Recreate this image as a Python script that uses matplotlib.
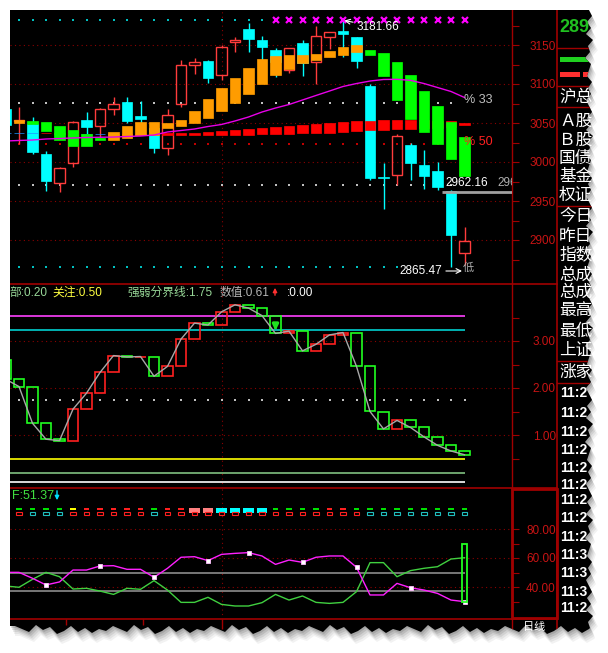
import matplotlib
matplotlib.use('Agg')
import matplotlib.pyplot as plt
from matplotlib.patches import Rectangle, Polygon
import numpy as np

plt.rcParams['font.family'] = ['Liberation Sans', 'Noto Sans CJK SC', 'DejaVu Sans']

W, H = 608, 653

# ---------------- data ----------------
# main panel: daily K lines (index 0 is the partly hidden one at the left edge)
opens = [3068, 3052, 3049, 3010, 2973, 2999, 3054, 3046, 3068, 3077,
         3059, 3044, 3018, 3074, 3124, 3130, 3112, 3154, 3171, 3156,
         3144, 3118, 3153, 3128, 3160, 3168, 3160, 3097, 2981, 2983,
         3022, 2996, 2989, 2963, 2883]
highs = [3072, 3070, 3058, 3014, 2993, 3052, 3064, 3069, 3083, 3083,
         3078, 3047, 3068, 3131, 3133, 3131, 3150, 3160, 3178, 3161,
         3146, 3146, 3156, 3174, 3167, 3181.66, 3160, 3100, 2999, 3036,
         3024, 3016, 3000, 2964, 2917]
lows = [3040, 3023, 3010, 2963, 2962, 2994, 3036, 3031, 3060, 3050,
        3047, 3012, 3009, 3070, 3113, 3101, 3105, 3141, 3141, 3131,
        3109, 3114, 3110, 3100, 3145, 3134, 3121, 2977, 2940, 2971,
        2977, 2965, 2964, 2865.47, 2868]
closes = [3047, 3054, 3013, 2976, 2992, 3051, 3045, 3068, 3074, 3053,
          3055, 3018, 3060, 3124, 3128, 3108, 3147, 3157, 3158, 3147,
          3128, 3146, 3127, 3162, 3167, 3164, 3130, 2980, 2979, 3033,
          2999, 2982, 2968, 2906, 2899]

# trend boxes (orange = up, green = down)
box_open = [np.nan, 3050, 3052.6, 3051.3, 3046.2, 3041, 3035.9, 3030.8, 3028.2, 3030.8,
            3034.6, 3034.6, 3043.6, 3046.2, 3050, 3056.4, 3065.4, 3075.6, 3087.2, 3100,
            3111.5, 3119.2, 3126.9, 3130.8, 3134.6, 3137.2, 3141, 3143.6, 3139.7, 3128.2,
            3111.5, 3091, 3071.8, 3051.3, 3032.1]
box_close = [np.nan, 3053.8, 3048.7, 3039.7, 3028.2, 3020.5, 3020.5, 3028.2, 3038.5, 3046.2,
             3051.3, 3051.3, 3050, 3053.8, 3065.4, 3080.8, 3094.9, 3107.7, 3120.5, 3132.1,
             3135.9, 3137.2, 3137.2, 3138.5, 3142.3, 3147.4, 3150, 3137.2, 3110.3, 3079.5,
             3055.1, 3038.5, 3023.1, 3003.8, 2982.1]

# two average lines shown as a red / blue ribbon
band_fast = [3036.6, 3036.6, 3036.6, 3037.6, 3037, 3037, 3035.4, 3035.4, 3036, 3036,
             3036, 3038, 3037, 3037.2, 3037.2, 3038.5, 3039.7, 3041.0, 3042.3, 3043.6,
             3044.9, 3046.2, 3047.4, 3048.7, 3050.0, 3051.3, 3052.6, 3052.6, 3053.8, 3053.8,
             3053.8, 3053.8, 3053.0, 3052, 3050.4]
band_slow = [3037.6, 3037.6, 3037.6, 3036.6, 3036, 3036, 3036.4, 3036.4, 3035, 3035,
             3035, 3035, 3035, 3034.6, 3034.6, 3034.6, 3034.6, 3034.6, 3034.6, 3035.9,
             3035.9, 3035.9, 3037.2, 3037.2, 3037.6, 3038, 3039.7, 3041.0, 3041.0, 3042.0,
             3042.8, 3043.0, 3044, 3045, 3047.4]

ma_line = [3026.9, 3027.6, 3028.2, 3029.5, 3030.1, 3030.8, 3031.4, 3031.7, 3032.0, 3032.7,
           3033.3, 3034.6, 3038.5, 3040.4, 3042.3, 3045.5, 3048.1, 3052.6, 3057.7, 3064.1,
           3069.2, 3073.7, 3079.5, 3085.3, 3091.0, 3096.8, 3100.6, 3103.8, 3105.8, 3106.0,
           3104.7, 3100.6, 3095.5, 3090.4, 3082.7]

hi_mark, lo_mark, last_mark = 3181.66, 2865.47, 2962.16
lvl_23 = lo_mark + (hi_mark - lo_mark) * 2 / 3
lvl_13 = lo_mark + (hi_mark - lo_mark) / 3
lvl_50 = (hi_mark + lo_mark) / 2

price_ticks = [2900, 2950, 3000, 3050, 3100, 3150]

# panel 2: strength wave
wave_start = 2.60
wave = [2.19, 2.03, 1.25, 0.91, 0.88, 1.55, 1.89, 2.33, 2.69, 2.66,
        2.67, 2.25, 2.46, 3.04, 3.38, 3.34, 3.62, 3.77, 3.70, 3.54,
        3.16, 3.21, 2.79, 2.93, 3.13, 3.18, 2.46, 1.50, 1.13, 1.31,
        1.16, 0.96, 0.78, 0.66, 0.58]
wave_levels = [3.53, 3.23, 0.50, 0.20, 0.00]
wave_level_colors = ['#ff40ff', '#00d0d0', '#ffff00', '#80c080', '#ffffff']
wave_split = 1.75

# panel 3: two oscillator lines
osc_a = [50.1, 50.1, 46.0, 41.4, 43.5, 51.7, 51.7, 54.5, 54.7, 52.2,
         52.2, 46.7, 52.9, 60.5, 60.9, 58.2, 62.5, 63.2, 63.7, 61.4,
         55.6, 58.6, 57.0, 60.5, 61.4, 61.4, 53.6, 34.5, 34.5, 42.5,
         39.5, 37.9, 35.6, 31.0, 29.9]
osc_b = [40.7, 39.8, 45.3, 50.1, 47.1, 38.6, 39.1, 37.2, 34.9, 39.1,
         38.4, 44.4, 37.9, 29.4, 29.4, 32.9, 28.0, 26.9, 26.9, 29.2,
         34.9, 31.0, 33.8, 29.4, 28.7, 29.4, 36.8, 56.8, 56.8, 47.1,
         51.3, 52.9, 54.0, 59.3, 60.2]
osc_marks = [3, 7, 11, 15, 18, 22, 26, 30, 34]
osc_bar = (29.9, 69.7)
osc_levels = [50, 37]
signal_top = "ggggyrrrrrgrrPPCCCCggggrrggggggggg"      # candles 1..34
signal_bot = "rcccrrrrrrcrrrrrrrrrrrrrrrcccccccc"

info_labels = ["沪总", "Ａ股", "Ｂ股", "国债", "基金", "权证", "今日", "昨日",
               "指数", "总成", "总成", "最高", "最低", "上证", "涨家"]
info_y = [97, 121, 140, 158, 176, 195, 216, 236, 255, 275, 292, 311, 331, 350, 372]
time_labels = ["11:2"] * 9 + ["11:3"] * 3 + ["11:2"]
time_y = [393, 413, 432, 450, 468, 485, 500, 518, 537, 555, 573, 592, 608]

n = len(closes)
idx = np.arange(n)

# ---------------- colours ----------------
RED = '#ff3c3c'
CYAN = '#00ffff'
ORANGE = '#ff9c00'
GREEN = '#00ff00'
GRID = '#8c0000'
AXIS = '#a00000'
TLBL = '#c81414'
DOT = (0, (1, 3))

fig = plt.figure(figsize=(W / 100, H / 100), dpi=100)
fig.patch.set_facecolor('white')

bg = fig.add_axes([0, 0, 1, 1])
bg.set_xlim(0, W)
bg.set_ylim(H, 0)
bg.axis('off')
bg.set_zorder(0)

# torn paper edge
pat_r = np.array([0, 3, -2, 2, -3, 4, -1, 1, -4, 2, 0, -2, 3, -1, 2, -3])
ys_r = np.arange(10, 634, 6)
xs_r = 589 + pat_r[np.arange(len(ys_r)) % len(pat_r)]
pat_b = np.array([0, 4, -1, 3, -3, 2, 5, -2, 1, -4, 3, 0, -3, 2])
xs_b = np.arange(589, 9, -7)
ys_b = 629 + pat_b[np.arange(len(xs_b)) % len(pat_b)]
pts = np.array([(10, 10)] + list(zip(xs_r, ys_r)) + list(zip(xs_b, ys_b)) + [(10, ys_b[-1])], float)
for k, a in [(2, .12), (4, .10), (6, .08), (8, .06), (10, .05)]:
    bg.add_patch(Polygon(pts + [k * 0.5, k], closed=True, fc='black', ec='none', alpha=a))
edge = Polygon(pts, closed=True, fc='black', ec='none', zorder=1)
bg.add_patch(edge)


def line(x0, y0, x1, y1, **kw):
    ln, = bg.plot([x0, x1], [y0, y1], zorder=2, **kw)
    ln.set_clip_path(edge)


def txt(x, y, s, **kw):
    t = bg.text(x, y, s, zorder=3, **kw)
    t.set_clip_path(edge)
    return t


# frame lines
for yy in (284, 488, 619):
    line(10, yy, 557, yy, color=AXIS, lw=1.2)
line(512, 10, 512, 645, color=AXIS, lw=1)
line(557, 10, 557, 645, color=AXIS, lw=1.2)
bg.add_patch(Rectangle((512, 489), 45, 129, fill=False, ec=AXIS, lw=2, zorder=2))
for yy in (48, 86, 107, 206, 361, 383):
    line(557, yy, 600, yy, color=AXIS, lw=1)

# right info column
txt(559, 27, "289", color='#20c020', fontsize=13, fontweight='bold', va='center')
bg.add_patch(Rectangle((560, 57), 32, 5, fc='#20d020', ec='none', zorder=2, clip_path=edge))
bg.add_patch(Rectangle((560, 72), 20, 5, fc='#ff3030', ec='none', zorder=2, clip_path=edge))
bg.add_patch(Rectangle((583, 72), 10, 5, fc='#ff3030', ec='none', zorder=2, clip_path=edge))
for s, yy in zip(info_labels, info_y):
    txt(559, yy, s, color='white', fontsize=12, va='center', family='Noto Sans CJK SC')
for s, yy in zip(time_labels, time_y):
    txt(560, yy, s, color='white', fontsize=10, fontweight='bold', va='center')
txt(523, 627, "日线", color='white', fontsize=8, va='center', family='Noto Sans CJK SC')

# panel headers
txt(9, 293, "部:0.20", color='#98d898', fontsize=8.5, va='center')
txt(52, 293, "关注:0.50", color='#ffff40', fontsize=8.5, va='center')
txt(128, 293, "强弱分界线:1.75", color='#98d898', fontsize=8.5, va='center')
txt(220, 293, "数值:0.61", color='#b8b8b8', fontsize=8.5, va='center')
txt(287, 293, ":0.00", color='white', fontsize=8.5, va='center')
bg.annotate('', xy=(275, 285), xytext=(275, 298),
            arrowprops=dict(arrowstyle='-|>', color='#ff3030', lw=1, mutation_scale=6), zorder=3)
txt(12, 496, "F:51.37", color='#40e040', fontsize=9, va='center')
bg.annotate('', xy=(57, 503), xytext=(57, 488),
            arrowprops=dict(arrowstyle='-|>', color='#00e0ff', lw=1, mutation_scale=6), zorder=3)


def ip(x):
    # pixel column -> candle index
    return (x - 5.5) / 13.5


def px_axes(x0, y0, x1, y1):
    a = fig.add_axes([x0 / W, 1 - y1 / H, (x1 - x0) / W, (y1 - y0) / H])
    a.set_facecolor('none')
    a.set_zorder(1)
    for sp in a.spines.values():
        sp.set_visible(False)
    a.set_xlim(ip(10), ip(512))
    a.set_xticks([])
    a.yaxis.tick_right()
    a.tick_params(axis='y', which='both', direction='out', color=AXIS, labelcolor=TLBL,
                  labelsize=8.5, pad=26.6, length=5, width=0.8)
    a.axvline(16, color=GRID, ls=DOT, lw=0.8, zorder=0.5)
    return a


XL = (ip(10), ip(512))

# ---------------- main panel ----------------
ax1 = px_axes(10, 10, 512, 284)
ax1.set_ylim(3150 - (284 - 45) / 0.78, 3150 + (45 - 10) / 0.78)
ax1.set_yticks(price_ticks, labels=[str(v) for v in price_ticks], ha='right')
ax1.set_yticks([p + 25 for p in price_ticks[:-1]] + [2875, 3175], minor=True)
ax1.hlines(price_ticks, *XL, colors=GRID, linestyles=DOT, lw=0.8, zorder=0.5)

dots_x = idx[1:34]
ax1.scatter(idx[1:20], [hi_mark] * 19, s=1.5, marker='s', c='#00c0c0', lw=0, zorder=1)
ax1.scatter(idx[1:30], [lo_mark] * 29, s=1.5, marker='s', c='#00c0c0', lw=0, zorder=1)
ax1.scatter(dots_x, [lvl_23] * len(dots_x), s=1.5, marker='s', c='#c0c0c0', lw=0, zorder=1)
ax1.scatter(dots_x, [lvl_13] * len(dots_x), s=1.5, marker='s', c='#c0c0c0', lw=0, zorder=1)
ax1.scatter(dots_x, [lvl_50] * len(dots_x), s=1.5, marker='s', c='#c00000', lw=0, zorder=1)
ax1.plot(idx[20:], [hi_mark] * (n - 20), 'x', color='#ff00ff', ms=4, mew=1.6, zorder=5)

for i in range(n):
    o, h, l, c = opens[i], highs[i], lows[i], closes[i]
    if c >= o:
        ax1.add_patch(Rectangle((i - 0.4, o), 0.8, c - o, fill=False, ec=RED, lw=1, zorder=2))
        ax1.vlines(i, c, h, color=RED, lw=1, zorder=2)
        ax1.vlines(i, l, o, color=RED, lw=1, zorder=2)
    else:
        ax1.vlines(i, l, h, color=CYAN, lw=1, zorder=2)
        ax1.add_patch(Rectangle((i - 0.4, c), 0.8, o - c, fc=CYAN, ec=CYAN, lw=0.5, zorder=2))

for i in range(n):
    a, b = band_fast[i], band_slow[i]
    col = '#ff0000' if a > b else '#2090ff'
    ax1.add_patch(Rectangle((i - 0.4, min(a, b)), 0.8, abs(a - b), fc=col, ec=col, lw=0.5, zorder=3))

for i in range(n):
    o, c = box_open[i], box_close[i]
    if np.isnan(o):
        continue
    col = ORANGE if c > o else GREEN
    ax1.add_patch(Rectangle((i - 0.4, min(o, c)), 0.8, abs(c - o), fc=col, ec=col, lw=0.5, zorder=4))

ax1.plot(idx, ma_line, color='#e800e8', lw=1, zorder=5)
ax1.hlines(last_mark, ip(442), XL[1], color='#a0a0a0', lw=2, zorder=5)

ax1.annotate('3181.66', xy=(25, hi_mark), xytext=(357, 27), textcoords=bg.transData,
             color='white', fontsize=8.5, va='center', ha='left', zorder=6,
             arrowprops=dict(arrowstyle='->', color='white', lw=0.8, shrinkA=1, shrinkB=1))
ax1.annotate('2865.47', xy=(ip(462), 3150 - (271 - 45) / 0.78), xytext=(399, 271),
             textcoords=bg.transData, color='white', fontsize=8.5, va='center', ha='left',
             zorder=6, arrowprops=dict(arrowstyle='->', color='white', lw=0.8, shrinkA=1, shrinkB=0))
ax1.text(463, 268, '低', transform=bg.transData, color='#b0b0b0', fontsize=8, va='center',
         family='Noto Sans CJK SC', zorder=6)
ax1.text(445, 183, '2962.16', transform=bg.transData, color='white', fontsize=8.5,
         va='center', zorder=6)
ax1.text(497, 183, '2962.16', transform=bg.transData, color='#b0b0b0', fontsize=8.5,
         va='center', zorder=6, clip_on=True)
ax1.text(464, 100, '% 33', transform=bg.transData, color='#c0c0c0', fontsize=9, va='center', zorder=6)
ax1.text(464, 142, '% 50', transform=bg.transData, color='#ff2020', fontsize=9, va='center', zorder=6)

# ---------------- strength panel ----------------
ax2 = px_axes(10, 284, 512, 488)
ax2.set_ylim(3 - (488 - 341) / 47, 3 + (341 - 284) / 47)
ax2.set_yticks([1, 2, 3], labels=['1.00', '2.00', '3.00'], ha='right')
ax2.set_yticks([0.5, 1.5, 2.5, 3.5], minor=True)
ax2.hlines([1, 2, 3], *XL, colors=GRID, linestyles=DOT, lw=0.8, zorder=0.5)
for v, col in zip(wave_levels, wave_level_colors):
    ax2.hlines(v, XL[0], 34, color=col, lw=1.2, zorder=1)
ax2.scatter(idx[1:], [wave_split] * (n - 1), s=1.5, marker='s', c='#c0c0c0', lw=0, zorder=1)

prev = [wave_start] + wave[:-1]
for i in range(n):
    a, b = prev[i], wave[i]
    col = '#ff2020' if b > a else '#20ff20'
    ax2.add_patch(Rectangle((i - 0.4, min(a, b)), 0.8, abs(b - a), fill=False, ec=col, lw=1.2, zorder=2))
ax2.plot(np.arange(-1, n), [wave_start] + wave, color='#a8a8a8', lw=1, zorder=3)
ax2.annotate('', xy=(20, 3.16), xytext=(20, 3.42),
             arrowprops=dict(arrowstyle='-|>', color='#20e020', lw=2.2, mutation_scale=8), zorder=4)

# ---------------- oscillator panel ----------------
ax3 = px_axes(10, 488, 512, 619)
ax3.set_ylim(80 - (619 - 529) / 1.45, 80 + (529 - 488) / 1.45)
ax3.set_yticks([40, 60, 80], labels=['40.00', '60.00', '80.00'], ha='right')
ax3.set_yticks([30, 50, 70], minor=True)
ax3.hlines([40, 60, 80], *XL, colors=GRID, linestyles=DOT, lw=0.8, zorder=0.5)
ax3.hlines(osc_levels, XL[0], 34, color='#8c8c8c', lw=1.2, zorder=1)
ax3.plot(idx, osc_b, color='#40d040', lw=1, zorder=2)
ax3.plot(idx, osc_a, color='#ff20ff', lw=1, zorder=3)
ax3.plot(osc_marks, [osc_a[i] for i in osc_marks], 's', ms=3.2, mfc='white', mec='#ffc0ff',
         mew=0.6, zorder=4)
ax3.add_patch(Rectangle((34 - 0.18, osc_bar[0]), 0.36, osc_bar[1] - osc_bar[0], fill=False,
                        ec='#20ff20', lw=1.3, zorder=4))

top_cols = {'g': '#00e000', 'y': '#ffff00', 'r': '#ff2020', 'P': '#ff8080', 'C': '#00ffff'}
bot_cols = {'r': '#ff2020', 'c': '#20c0c0'}
for k, code in enumerate(signal_top):
    i = k + 1
    if code in 'PC':
        ax3.add_patch(Rectangle((i - 0.4, 91.0), 0.8, 3.5, fc=top_cols[code], ec='none', zorder=2))
    else:
        ax3.add_patch(Rectangle((i - 0.2, 93.1), 0.4, 1.4, fc=top_cols[code], ec='none', zorder=2))
for k, code in enumerate(signal_bot):
    i = k + 1
    ax3.add_patch(Rectangle((i - 0.2, 89.7), 0.4, 1.9, fill=False, ec=bot_cols[code], lw=0.8, zorder=3))

ax3.set_xticks([16])
ax3.set_xticks([4.5, 10.2], minor=True)
ax3.tick_params(axis='x', which='both', direction='out', color=AXIS, labelbottom=False, width=1)
ax3.tick_params(axis='x', which='major', length=7)
ax3.tick_params(axis='x', which='minor', length=4)

fig.savefig('out.png', dpi=100, facecolor='white')
